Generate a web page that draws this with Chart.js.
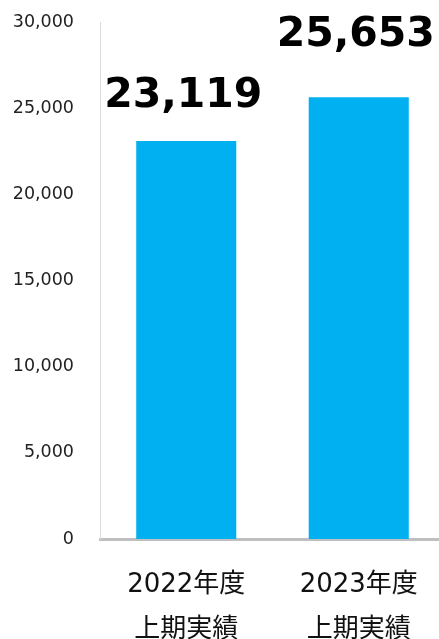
<!DOCTYPE html>
<html>
<head>
<meta charset="utf-8">
<script src="https://cdn.jsdelivr.net/npm/chart.js@4/dist/chart.umd.min.js"></script>
<style>
  html, body { margin: 0; padding: 0; background: #fff; overflow: hidden; }
  #wrap { position: absolute; left: 0; top: -14px; width: 445px; height: 682px; }
</style>
</head>
<body>
<div id="wrap"><canvas id="chart"></canvas></div>
<script>
const categories = [["2022年度", "上期実績"], ["2023年度", "上期実績"]]
const values = [23119, 25653]
const yTicks = [0, 5000, 10000, 15000, 20000, 25000, 30000]

// draws the big bold value above each bar
const valueLabels = {
  id: "valueLabels",
  afterDatasetsDraw(chart, args, opts) {
    const ctx = chart.ctx
    const meta = chart.getDatasetMeta(0)
    ctx.save()
    ctx.font = "bold 41px 'DejaVu Sans'"
    ctx.fillStyle = "#000"
    ctx.textAlign = "center"
    ctx.textBaseline = "alphabetic"
    meta.data.forEach((bar, i) => {
      const gap = opts.gaps[i] || 30
      ctx.fillText(values[i].toLocaleString("en-US"), bar.x - 3, bar.y - gap)
    })
    ctx.restore()
  }
}

new Chart(document.getElementById("chart"), {
  type: "bar",
  data: {
    labels: categories,
    datasets: [{
      data: values,
      backgroundColor: "#00B0F0",
      categoryPercentage: 1,
      barPercentage: 0.58
    }]
  },
  options: {
    responsive: true, maintainAspectRatio: false, animation: false,
    layout: { padding: { top: 12, left: 12, right: 0, bottom: 0 } },
    plugins: {
      legend: { display: false },
      tooltip: { enabled: false },
      valueLabels: { gaps: [34, 51] }
    },
    scales: {
      x: {
        grid: { display: false },
        border: { display: true, color: "#BFBFBF", width: 3 },
        ticks: {
          color: "#111",
          padding: 15,
          font: { family: "'DejaVu Sans', 'Noto Sans CJK JP'", size: 26, lineHeight: 1.75 }
        }
      },
      y: {
        min: 0, max: 30000,
        afterBuildTicks: (axis) => { axis.ticks = yTicks.map(v => ({ value: v })) },
        afterFit: (axis) => { axis.width = 88 },
        grid: { display: false, drawTicks: false },
        border: { display: true, color: "#D9D9D9", width: 1 },
        ticks: {
          color: "#222",
          padding: 26,
          font: { family: "'DejaVu Sans'", size: 17.5 },
          callback: (v) => v.toLocaleString("en-US")
        }
      }
    }
  },
  plugins: [valueLabels]
})
</script>
</body>
</html>
